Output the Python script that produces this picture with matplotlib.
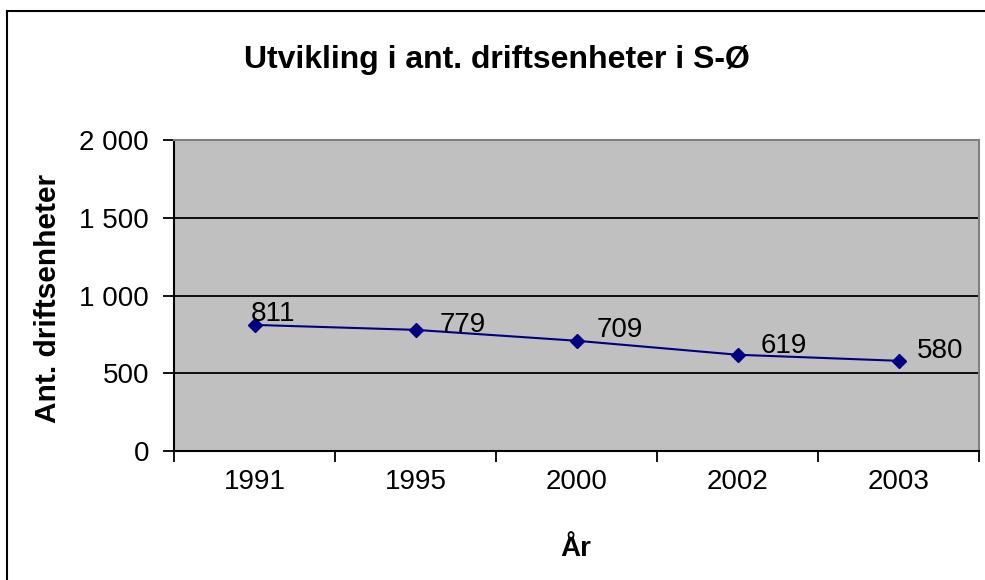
import matplotlib.pyplot as plt
from matplotlib.patches import Rectangle
from matplotlib.ticker import FixedLocator, FuncFormatter

plt.rcParams["font.family"] = ["Liberation Sans", "DejaVu Sans"]

years = ["1991", "1995", "2000", "2002", "2003"]
units = [811, 779, 709, 619, 580]
y_ticks = [0, 500, 1000, 1500, 2000]

# label offsets in pixels (left edge, baseline) relative to each marker
label_offsets = [(-4, 4), (24, -2), (20, 4), (23, 2), (18, 3)]

fig = plt.figure(figsize=(9.85, 5.8), dpi=100)
fig.patches.append(
    Rectangle((7 / 985, -0.1), 1.2, 1 - 11 / 580 + 0.1, transform=fig.transFigure,
              fill=False, edgecolor="black", linewidth=1.5)
)

ax = fig.add_axes([174 / 985, 1 - 451 / 580, (979 - 174) / 985, (451 - 140) / 580])
ax.set_facecolor("#c0c0c0")

x = list(range(len(years)))
ax.plot(x, units, color="#000080", linewidth=1.5, marker="D", markersize=7,
        markerfacecolor="#000080", markeredgecolor="#000080", zorder=3)

for xi, v, (dx, dy) in zip(x, units, label_offsets):
    ax.annotate(str(v), (xi, v), xytext=(dx, dy), textcoords="offset pixels",
                ha="left", va="baseline", fontsize=20, color="black", zorder=4)

ax.set_xlim(-0.5, len(years) - 0.5)
ax.set_ylim(0, 2000)

ax.yaxis.set_major_locator(FixedLocator(y_ticks))
ax.yaxis.set_major_formatter(FuncFormatter(lambda v, p: f"{int(v):,}".replace(",", " ")))
ax.grid(axis="y", color="black", linewidth=1.3)
ax.set_axisbelow(True)

ax.set_xticks(x)
ax.set_xticklabels(years)
ax.set_xticks([i - 0.5 for i in range(len(years) + 1)], minor=True)
ax.tick_params(axis="x", which="major", length=0, pad=13, labelsize=20)
ax.tick_params(axis="x", which="minor", length=8, width=1.3, direction="out")
ax.tick_params(axis="y", length=8, width=1.3, pad=10, labelsize=20, direction="out")

for side in ["left", "bottom"]:
    ax.spines[side].set_color("black")
    ax.spines[side].set_linewidth(1.5)
for side in ["top", "right"]:
    ax.spines[side].set_color("#808080")
    ax.spines[side].set_linewidth(1.5)

fig.text(497 / 985, 1 - 60 / 580, "Utvikling i ant. driftsenheter i S-Ø",
         ha="center", va="center", fontsize=23, fontweight="bold")
fig.text(48 / 985, 1 - 298 / 580, "Ant. driftsenheter", rotation=90,
         ha="center", va="center", fontsize=21.5, fontweight="bold")
fig.text(576 / 985, 1 - 556 / 580, "År", ha="center", va="baseline",
         fontsize=20, fontweight="bold")

fig.savefig("out.png", dpi=100)
